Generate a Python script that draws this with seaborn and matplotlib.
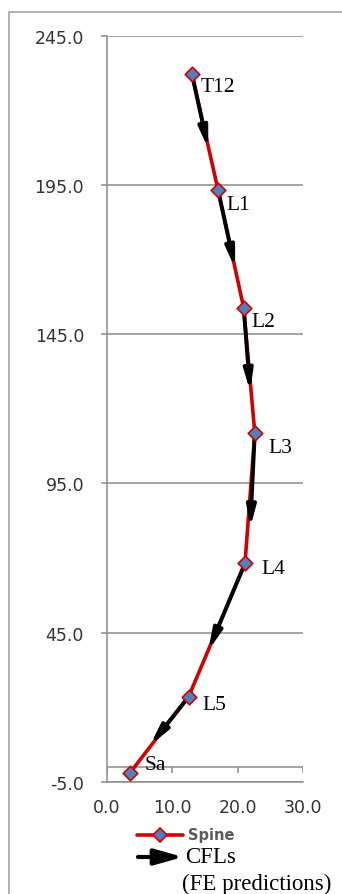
import matplotlib
matplotlib.use("Agg")
import numpy as np
import pandas as pd
import seaborn as sns
import matplotlib.pyplot as plt
from matplotlib.patches import FancyArrowPatch, Rectangle
from matplotlib.lines import Line2D

# ---- data ----
levels = ["T12", "L1", "L2", "L3", "L4", "L5", "Sa"]
spine_x = [13.0, 17.0, 20.9, 22.6, 21.1, 12.5, 3.5]
spine_y = [232.3, 193.3, 153.9, 111.9, 68.2, 23.5, -2.2]
# CFL (FE prediction) arrow tips, starting at each level T12..L5
cfl_tip_x = [15.5, 19.6, 21.9, 21.9, 15.5, 6.6]
cfl_tip_y = [207.2, 167.1, 125.8, 80.1, 38.9, 7.1]
x_ticks = [0.0, 10.0, 20.0, 30.0]
y_ticks = [-5.0, 45.0, 95.0, 145.0, 195.0, 245.0]

W, H = 342, 895
def fx(px): return px / W
def fy(py): return 1 - py / H

sns.set_style("white")
plt.rcParams["font.family"] = ["DejaVu Sans"]

GRID = "#8c8c8c"
RED = "#D40000"
BLUE = "#4F81BD"
TXT = "#333333"

fig = plt.figure(figsize=(W / 100, H / 100), dpi=100)
ax = fig.add_axes([fx(106.7), fy(782.7), (303.3 - 106.7) / W, (782.7 - 37) / H])

df = pd.DataFrame({"x": spine_x, "y": spine_y, "level": levels})

sns.lineplot(data=df, x="x", y="y", sort=False, estimator=None, color=RED,
             linewidth=2.6, ax=ax, zorder=3)

for sx, sy, tx, ty in zip(spine_x[:-1], spine_y[:-1], cfl_tip_x, cfl_tip_y):
    ax.annotate("", xy=(tx, ty), xytext=(sx, sy),
                arrowprops=dict(arrowstyle="-|>,head_length=0.6,head_width=0.13",
                                color="black", lw=2.8, shrinkA=0, shrinkB=0,
                                mutation_scale=20),
                zorder=4)

sns.scatterplot(data=df, x="x", y="y", marker="D", s=55, color=BLUE,
                edgecolor=RED, linewidth=1.2, ax=ax, zorder=5, legend=False)

offsets = [(6.5, -9.4), (5.8, -10.1), (5.8, -10.1), (10, -10.1),
           (12.2, -3.6), (10, -5.8), (10.8, 6.5)]
for lab, x, y, off in zip(levels, spine_x, spine_y, offsets):
    ax.annotate(lab, (x, y), xytext=off, textcoords="offset points",
                ha="left", va="center", family=["Liberation Serif"],
                fontsize=15.5, color="black", zorder=6)

ax.set_xlim(0, 30)
ax.set_ylim(-5, 245)
ax.set_yticks(y_ticks)
ax.set_yticklabels([f"{v:.1f}" for v in y_ticks])
ax.set_xticks(x_ticks)
ax.set_xticklabels([f"{v:.1f}" for v in x_ticks])
ax.set_xlabel("")
ax.set_ylabel("")
ax.grid(axis="y", color=GRID, lw=1.1)
ax.grid(axis="x", visible=False)
ax.set_axisbelow(True)
for s in ["top", "right"]:
    ax.spines[s].set_visible(False)
for s in ["left", "bottom"]:
    ax.spines[s].set_color(GRID)
    ax.spines[s].set_linewidth(1.1)
ax.tick_params(axis="y", direction="out", length=4.3, width=1.1, color=GRID,
               pad=12, labelsize=12.5, labelcolor=TXT, left=True)
ax.tick_params(axis="x", length=0, pad=11.5, labelsize=12.5, labelcolor=TXT)

# horizontal axis crossing at y=0 with tick marks
ax.axhline(0, color=GRID, lw=1.1, zorder=1)
ax.vlines(x_ticks, -2, 0, color=GRID, lw=1.1, zorder=1)

# outer chart border (clipped by figure edge)
fig.add_artist(Rectangle((fx(9), -0.1), 1.0, fy(13) + 0.1, transform=fig.transFigure,
                         fill=False, ec="#9a9a9a", lw=1.1))

# ---- legend ----
fig.add_artist(Line2D([fx(136.7), fx(183.3)], [fy(836), fy(836)], color=RED, lw=2.6,
                      transform=fig.transFigure))
fig.add_artist(Line2D([fx(160)], [fy(836)], marker="D", ms=7, mfc=BLUE, mec=RED,
                      mew=1.2, transform=fig.transFigure))
fig.text(fx(188), fy(836), "Spine", ha="left", va="center", fontsize=10.5,
         fontweight="bold", color="#5a5a5a")
fig.add_artist(FancyArrowPatch((fx(138), fy(858)), (fx(183), fy(858)),
                               transform=fig.transFigure,
                               arrowstyle="-|>,head_length=0.85,head_width=0.24",
                               color="black", lw=3.0, mutation_scale=20,
                               shrinkA=0, shrinkB=0))
fig.text(fx(185), fy(858), "CFLs", ha="left", va="center", fontsize=16.5,
         family=["Liberation Serif"], color="black")
fig.text(fx(182), fy(884), "(FE predictions)", ha="left", va="center", fontsize=16.5,
         family=["Liberation Serif"], color="black")

fig.savefig("out.png", dpi=100)
